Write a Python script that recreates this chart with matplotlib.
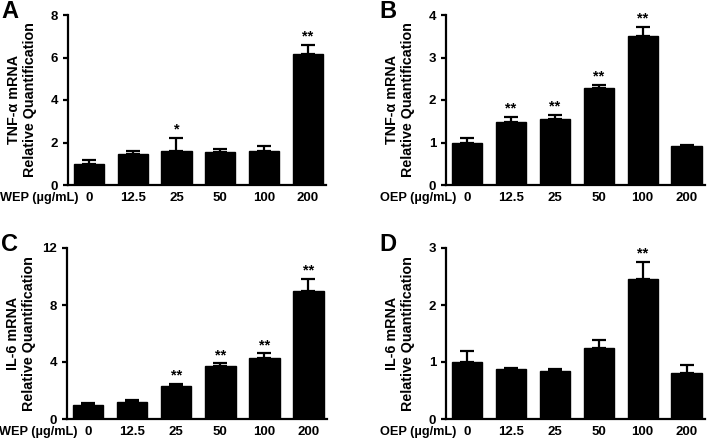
import numpy as np
import matplotlib
matplotlib.use('Agg')
import matplotlib.pyplot as plt

plt.rcParams['font.family'] = ['Liberation Sans', 'DejaVu Sans']
plt.rcParams['font.weight'] = 'bold'

doses = ['0', '12.5', '25', '50', '100', '200']

# A: TNF-a, WEP
tnf_wep = [1.0, 1.45, 1.6, 1.55, 1.6, 6.15]
tnf_wep_err = [0.17, 0.15, 0.6, 0.15, 0.25, 0.45]
tnf_wep_sig = ['', '', '*', '', '', '**']

# B: TNF-a, OEP
tnf_oep = [1.0, 1.48, 1.55, 2.28, 3.5, 0.92]
tnf_oep_err = [0.1, 0.12, 0.1, 0.07, 0.22, 0.01]
tnf_oep_sig = ['', '**', '**', '**', '**', '']

# C: IL-6, WEP
il6_wep = [1.0, 1.2, 2.35, 3.75, 4.3, 8.95]
il6_wep_err = [0.1, 0.15, 0.12, 0.15, 0.3, 0.85]
il6_wep_sig = ['', '', '**', '**', '**', '**']

# D: IL-6, OEP
il6_oep = [1.0, 0.87, 0.85, 1.25, 2.45, 0.8]
il6_oep_err = [0.2, 0.02, 0.03, 0.13, 0.3, 0.14]
il6_oep_sig = ['', '', '', '', '**', '']

fig = plt.figure(figsize=(7.09, 4.41), dpi=100)
W, H = 709.0, 441.0


def panel(rect_px, letter, letter_xy, vals, errs, sig, ymax, yticks, ylabel, xname):
    l, t, r, b = rect_px
    ax = fig.add_axes([l / W, 1 - b / H, (r - l) / W, (b - t) / H])
    x = np.arange(len(doses))
    ax.bar(x, vals, width=0.69, color='black', edgecolor='black', zorder=2)
    ax.errorbar(x, vals, yerr=[np.zeros(len(vals)), errs], fmt='none',
                ecolor='black', elinewidth=1.6, capsize=5.2, capthick=1.6, zorder=1)
    for xi, v, e, s in zip(x, vals, errs, sig):
        if s:
            ax.annotate(s, xy=(xi, v + e), xytext=(0, 1), textcoords='offset points',
                        ha='center', va='bottom', fontsize=10.5, fontweight='bold')
    ax.set_xlim(-0.48, 5.42)
    ax.set_ylim(0, ymax)
    ax.set_yticks(yticks)
    ax.set_xticks(x)
    ax.set_xticklabels(doses)
    for sp in ['top', 'right']:
        ax.spines[sp].set_visible(False)
    for sp in ['left', 'bottom']:
        ax.spines[sp].set_linewidth(1.6)
    ax.tick_params(axis='y', length=3.5, width=1.6, labelsize=9.5, pad=3.5)
    ax.tick_params(axis='x', length=0, labelsize=9.5, pad=5)
    for lab in ax.get_xticklabels() + ax.get_yticklabels():
        lab.set_fontweight('bold')
    ax.set_ylabel(ylabel, fontsize=10.3, fontweight='bold', linespacing=1.15)
    ax.yaxis.set_label_coords(-0.12, 0.5)
    ax.annotate(xname, xy=(-0.25, 0), xycoords=('data', 'axes fraction'),
                xytext=(0, -5), textcoords='offset points', ha='right', va='top',
                fontsize=9.2, fontweight='bold')
    fig.text(letter_xy[0] / W, 1 - letter_xy[1] / H, letter, fontsize=17,
             fontweight='bold', ha='left', va='top')
    return ax


panel((68, 15, 326, 185), 'A', (1, 0), tnf_wep, tnf_wep_err, tnf_wep_sig,
      8, [0, 2, 4, 6, 8], 'TNF-α mRNA\nRelative Quantification', 'WEP (µg/mL)')
panel((446, 15, 705, 185), 'B', (379, 0), tnf_oep, tnf_oep_err, tnf_oep_sig,
      4, [0, 1, 2, 3, 4], 'TNF-α mRNA\nRelative Quantification', 'OEP (µg/mL)')
panel((67, 248, 327, 419), 'C', (1, 233), il6_wep, il6_wep_err, il6_wep_sig,
      12, [0, 4, 8, 12], 'IL-6 mRNA\nRelative Quantification', 'WEP (µg/mL)')
panel((446, 248, 705, 419), 'D', (379, 233), il6_oep, il6_oep_err, il6_oep_sig,
      3, [0, 1, 2, 3], 'IL-6 mRNA\nRelative Quantification', 'OEP (µg/mL)')

fig.savefig('out.png', dpi=100)
